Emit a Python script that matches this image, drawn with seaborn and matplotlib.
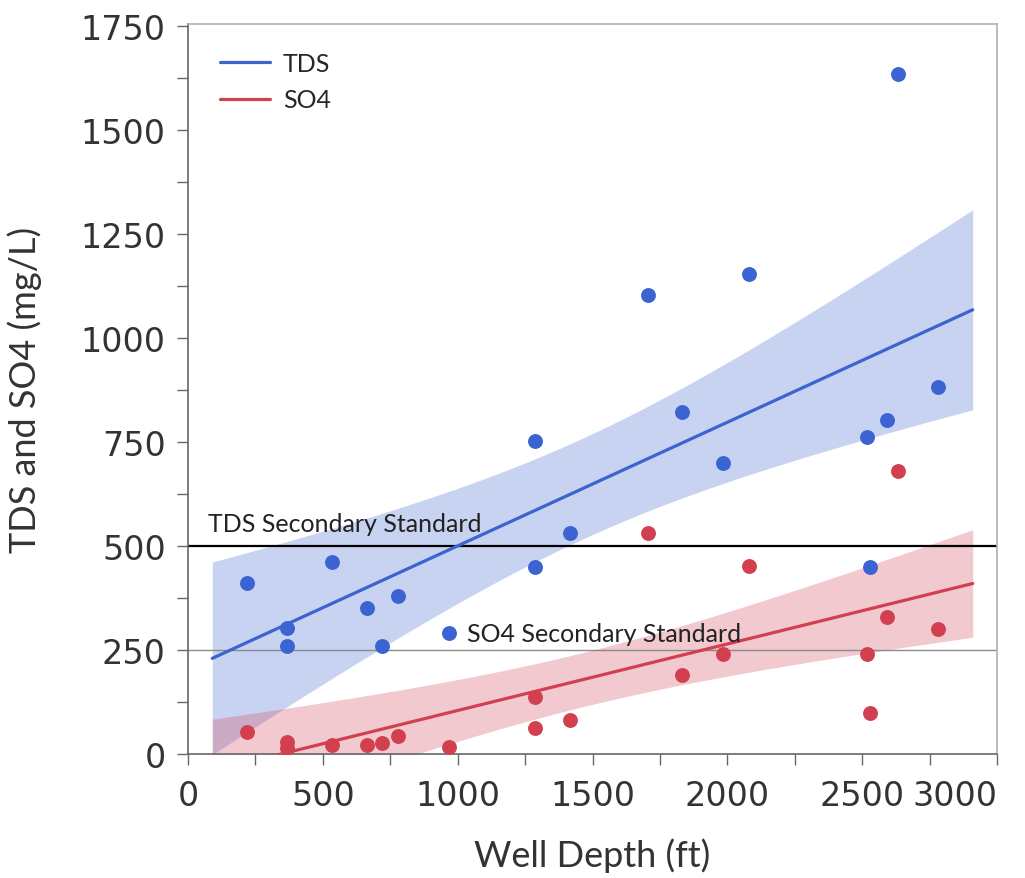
import matplotlib
matplotlib.use("Agg")
import matplotlib.pyplot as plt
import numpy as np
import pandas as pd
import seaborn as sns
from matplotlib.ticker import MultipleLocator

# well depth (ft) and concentrations (mg/L)
depth = [219, 367, 367, 534, 664, 720, 779, 968, 1288, 1288,
         1417, 1707, 1832, 1984, 2081, 2518, 2529, 2592, 2633, 2781]
tds = [412, 303, 260, 462, 351, 260, 380, 290, 753, 450,
       532, 1103, 823, 700, 1153, 761, 450, 802, 1634, 883]
so4 = [53, 28, 15, 22, 22, 27, 43, 17, 138, 62,
       82, 532, 190, 241, 452, 241, 98, 330, 681, 300]

tds_std = 500
so4_std = 250
fit_range = (90, 2910)

blue = "#3b63d1"
red = "#d2404f"


def conf_band(x, y, grid, t=2.101):
    # 95% confidence band of the least-squares line (t for n-2 = 18 df)
    x = np.asarray(x, float)
    y = np.asarray(y, float)
    n = len(x)
    b1, b0 = np.polyfit(x, y, 1)
    s = np.sqrt(np.sum((y - (b0 + b1 * x)) ** 2) / (n - 2))
    sxx = np.sum((x - x.mean()) ** 2)
    se = s * np.sqrt(1 / n + (grid - x.mean()) ** 2 / sxx)
    fit = b0 + b1 * grid
    return fit - t * se, fit + t * se


df = pd.DataFrame({"Depth": depth, "TDS": tds, "SO4": so4})

sns.set_style("ticks")
plt.rcParams['font.family'] = ['DejaVu Sans']
label_font = "Lato"

fig = plt.figure(figsize=(10.25, 8.79), dpi=100)
ax = fig.add_axes([188 / 1025, 1 - 755 / 879, 809 / 1025, 730 / 879])
ax.set_xlim(*fit_range)

grid = np.linspace(*fit_range, 200)
for col, color in [("TDS", blue), ("SO4", red)]:
    lo, hi = conf_band(df["Depth"], df[col], grid)
    ax.fill_between(grid, lo, hi, color=color, alpha=0.28, linewidth=0, zorder=1)
    sns.regplot(data=df, x="Depth", y=col, ax=ax, truncate=False, ci=None,
                color=color,
                scatter_kws=dict(s=115, linewidths=0, alpha=1, zorder=4),
                line_kws=dict(lw=2.3, label=col, zorder=3))

ax.axhline(tds_std, color="black", lw=1.6, zorder=2)
ax.axhline(so4_std, color="#8a8a8a", lw=1.0, zorder=2)
ax.text(75, 536, "TDS Secondary Standard", fontsize=18, family=label_font,
        color="#222222", va="baseline")
ax.text(1035, 272, "SO4 Secondary Standard", fontsize=18, family=label_font,
        color="#222222", va="baseline")

ax.set_xlim(0, 3000)
ax.set_ylim(0, 1755)
ax.xaxis.set_major_locator(MultipleLocator(500))
ax.xaxis.set_minor_locator(MultipleLocator(250))
ax.yaxis.set_major_locator(MultipleLocator(250))
ax.yaxis.set_minor_locator(MultipleLocator(125))
ax.tick_params(which="both", direction="out", length=8, width=1, color="#666666",
               labelsize=24, labelcolor="#333333")
ax.tick_params(axis="x", pad=10)
ax.tick_params(axis="y", pad=8)
for lab in ax.get_xticklabels():
    if lab.get_text() == "3000":
        lab.set_horizontalalignment("right")

for side in ["left", "bottom"]:
    ax.spines[side].set_color("#666666")
    ax.spines[side].set_linewidth(1.2)
for side in ["top", "right"]:
    ax.spines[side].set_visible(True)
    ax.spines[side].set_color("#b0b0b0")
    ax.spines[side].set_linewidth(1.2)

ax.set_xlabel("Well Depth (ft)", fontsize=26, family=label_font, color="#333333", labelpad=18)
ax.set_ylabel("TDS and SO4 (mg/L)", fontsize=26, family=label_font, color="#333333", labelpad=28)

ax.legend(loc="upper left", bbox_to_anchor=(0.012, 0.993), frameon=False,
          handlelength=2.0, handletextpad=0.5, labelspacing=0.55,
          prop=dict(family=label_font, size=18))

fig.savefig("out.png", dpi=100)
